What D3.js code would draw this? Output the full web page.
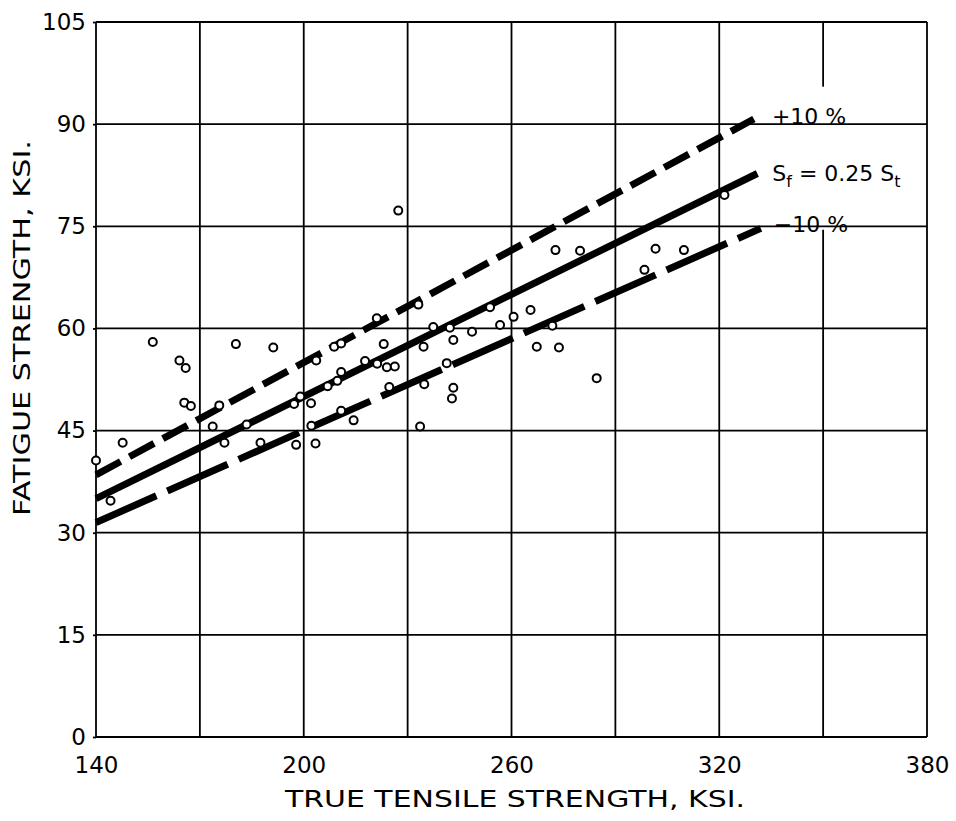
<!DOCTYPE html>
<html>
<head>
<meta charset="utf-8">
<script src="https://cdn.jsdelivr.net/npm/d3@7"></script>
<style>
  html, body { margin: 0; padding: 0; background: #fff; }
  svg { display: block; }
  text { font-family: "DejaVu Sans", sans-serif; fill: #000; }
</style>
</head>
<body>
<svg id="chart" width="956" height="821"></svg>
<script>
// ---- data ----
const xTicks = [140, 200, 260, 320, 380];
const xGrid = [140, 170, 200, 230, 260, 290, 320, 350, 380];
const yTicks = [0, 15, 30, 45, 60, 75, 90, 105];

const tensile = [140.0, 144.2, 147.7, 156.4, 164.1, 165.9, 165.5, 167.4, 173.7, 175.6,
  177.1, 180.4, 183.5, 187.5, 191.2, 197.2, 197.8, 199.0, 202.1, 202.2,
  203.4, 203.6, 206.9, 208.8, 209.7, 210.8, 210.8, 210.8, 214.4, 217.7,
  221.1, 221.2, 223.1, 224.0, 226.3, 224.7, 227.3, 233.1, 233.6, 234.6,
  234.8, 237.4, 241.3, 242.2, 243.2, 243.2, 242.8, 248.6, 253.8, 256.7,
  260.6, 265.5, 267.3, 271.8, 272.7, 273.7, 279.8, 284.6, 298.4, 301.6,
  309.8, 321.5];
const fatigue = [40.6, 34.7, 43.2, 58.0, 55.3, 54.2, 49.1, 48.6, 45.6, 48.7,
  43.2, 57.7, 45.9, 43.2, 57.2, 48.9, 42.9, 50.0, 49.0, 45.7,
  43.1, 55.3, 51.5, 57.3, 52.3, 57.8, 53.6, 47.9, 46.5, 55.2,
  61.5, 54.8, 57.7, 54.3, 54.4, 51.4, 77.3, 63.5, 45.6, 57.3,
  51.8, 60.2, 54.9, 60.1, 58.3, 51.3, 49.7, 59.5, 63.1, 60.5,
  61.7, 62.7, 57.3, 60.4, 71.5, 57.2, 71.4, 52.7, 68.6, 71.7,
  71.5, 79.6];

// reference lines (end points)
const upperX = [140, 330], upperY = [38.5, 90.75];   // +10 %
const midX   = [140, 331], midY   = [35.0, 82.75];   // Sf = 0.25 St
const lowerX = [140, 332], lowerY = [31.5, 74.7];    // -10 %

// vertical grid line at 350 is broken where labels sit
const gridBreakX = 350, gridBreakFrom = 74.5, gridBreakTo = 95.5;

// ---- layout ----
const svg = d3.select("#chart");
const L = 96, R = 927, T = 22, B = 737;
const x = d3.scaleLinear().domain([140, 380]).range([L, R]);
const y = d3.scaleLinear().domain([0, 105]).range([B, T]);

const grid = svg.append("g").attr("stroke", "#000").attr("stroke-width", 1.8);
grid.selectAll("line.h").data(yTicks).join("line")
  .attr("x1", L).attr("x2", R)
  .attr("y1", d => y(d)).attr("y2", d => y(d));
xGrid.forEach(v => {
  if (v === gridBreakX) {
    grid.append("line").attr("x1", x(v)).attr("x2", x(v)).attr("y1", y(105)).attr("y2", y(gridBreakTo));
    grid.append("line").attr("x1", x(v)).attr("x2", x(v)).attr("y1", y(gridBreakFrom)).attr("y2", y(0));
  } else {
    grid.append("line").attr("x1", x(v)).attr("x2", x(v)).attr("y1", y(105)).attr("y2", y(0));
  }
});

// axes (labels only)
const yAxis = d3.axisLeft(y).tickValues(yTicks).tickSize(3).tickPadding(7);
const gy = svg.append("g").attr("transform", `translate(${L},0)`).call(yAxis);
gy.select(".domain").remove();
gy.selectAll("line").attr("stroke", "#000").attr("stroke-width", 1.8);
gy.selectAll("text").attr("font-size", 23).attr("font-family", "DejaVu Sans");

const xAxis = d3.axisBottom(x).tickValues(xTicks).tickSize(0).tickPadding(20);
const gx = svg.append("g").attr("transform", `translate(0,${B})`).call(xAxis);
gx.select(".domain").remove();
gx.selectAll("text").attr("font-size", 23).attr("font-family", "DejaVu Sans");

// axis titles
svg.append("text")
  .attr("x", 515).attr("y", 807)
  .attr("text-anchor", "middle")
  .attr("font-size", 23)
  .attr("textLength", 460).attr("lengthAdjust", "spacingAndGlyphs")
  .text("TRUE  TENSILE  STRENGTH,  KSI.");
svg.append("text")
  .attr("transform", "translate(30,328) rotate(-90)")
  .attr("text-anchor", "middle")
  .attr("font-size", 23)
  .attr("textLength", 376).attr("lengthAdjust", "spacingAndGlyphs")
  .text("FATIGUE  STRENGTH,  KSI.");

// reference lines
const line = d3.line().x(d => x(d[0])).y(d => y(d[1]));
const zipped = (xs, ys) => xs.map((v, i) => [v, ys[i]]);
svg.append("path").datum(zipped(upperX, upperY)).attr("d", line)
  .attr("fill", "none").attr("stroke", "#000").attr("stroke-width", 7)
  .attr("stroke-dasharray", "28 10");
svg.append("path").datum(zipped(midX, midY)).attr("d", line)
  .attr("fill", "none").attr("stroke", "#000").attr("stroke-width", 7);
svg.append("path").datum(zipped(lowerX, lowerY)).attr("d", line)
  .attr("fill", "none").attr("stroke", "#000").attr("stroke-width", 7)
  .attr("stroke-dasharray", "66 12");

// data points
svg.append("g").selectAll("circle").data(tensile).join("circle")
  .attr("cx", d => x(d)).attr("cy", (d, i) => y(fatigue[i]))
  .attr("r", 4).attr("fill", "#fff").attr("stroke", "#000").attr("stroke-width", 2);

// line labels
const ux = x(upperX[1]), uy = y(upperY[1]);
svg.append("text").attr("x", ux + 18).attr("y", uy + 5).attr("font-size", 22)
  .text("+10 %");
const mx = x(midX[1]), my = y(midY[1]);
const mt = svg.append("text").attr("x", mx + 15).attr("y", my + 7).attr("font-size", 22);
mt.append("tspan").text("S");
mt.append("tspan").attr("dy", 6).attr("font-size", 16).text("f");
mt.append("tspan").attr("dy", -6).text(" = 0.25  S");
mt.append("tspan").attr("dy", 6).attr("font-size", 16).text("t");
const lx = x(lowerX[1]), ly = y(lowerY[1]);
svg.append("text").attr("x", lx + 13).attr("y", ly + 4).attr("font-size", 22)
  .text("\u221210 %");
</script>
</body>
</html>
